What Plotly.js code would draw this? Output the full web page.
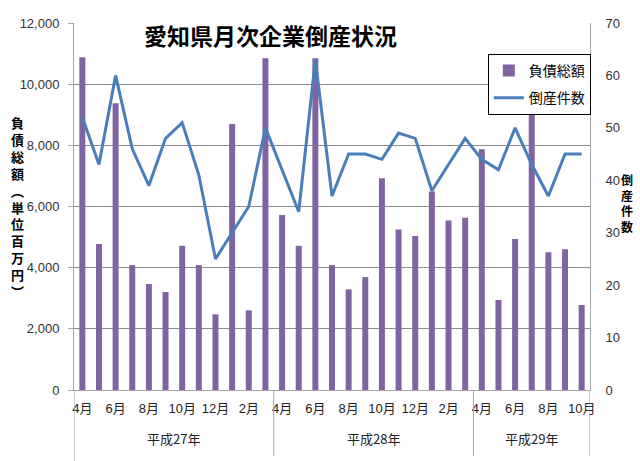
<!DOCTYPE html>
<html>
<head>
<meta charset="utf-8">
<script src="https://cdn.plot.ly/plotly-3.0.1.min.js"></script>
<style>
  html, body { margin: 0; padding: 0; background: #fff; }
  #chart { width: 640px; height: 461px; }
</style>
</head>
<body>
<div id="chart"></div>
<script>
// 平成27年4月 .. 平成29年10月
const months = ['4月', '5月', '6月', '7月', '8月', '9月', '10月', '11月', '12月', '1月', '2月', '3月',
                '4月', '5月', '6月', '7月', '8月', '9月', '10月', '11月', '12月', '1月', '2月', '3月',
                '4月', '5月', '6月', '7月', '8月', '9月', '10月'];
const years = ['平成27年', '平成28年', '平成29年'];
const yearCounts = [12, 12, 7];

// 負債総額 (百万円)
const debt = [10880, 4770, 9380, 4085, 3465, 3205, 4720, 4085, 2475, 8700, 2605, 10850,
              5720, 4720, 10850, 4085, 3290, 3690, 6920, 5250, 5035, 6490, 5540, 5635,
              7870, 2945, 4940, 9090, 4505, 4600, 2780];
// 倒産件数
const count = [52, 43, 60, 46, 39, 48, 51, 41, 25, 30, 35, 50,
               42, 34, 63, 37, 45, 45, 44, 49, 48, 38, 43, 48,
               44, 42, 50, 43, 37, 45, 45];

const idx = months.map((m, i) => i);
const tickIdx = idx.filter(i => i % 2 === 0);

const latin = 'Liberation Sans Narrow, Liberation Sans, Noto Sans CJK JP, sans-serif';
const cjk = 'Noto Sans CJK JP, sans-serif';

const traces = [
    {
        type: 'bar',
        name: '負債総額',
        legendgroup: 'a',
        x: idx,
        y: debt,
        width: 0.36,
        marker: {color: '#8064A2'},
        yaxis: 'y'
    },
    {
        type: 'scatter',
        mode: 'lines',
        name: '倒産件数',
        legendgroup: 'b',
        x: idx,
        y: count,
        line: {color: '#4A7EBB', width: 3},
        yaxis: 'y2'
    }
];

// year dividers and labels under the month ticks
let shapes = [], annotations = [];
let start = 0;
shapes.push({type: 'line', xref: 'x', yref: 'paper', x0: -0.5, x1: -0.5, y0: 0, y1: -0.2,
             line: {color: '#a6a6a6', width: 1}});
years.forEach((y, k) => {
    const end = start + yearCounts[k];
    shapes.push({type: 'line', xref: 'x', yref: 'paper', x0: end - 0.5, x1: end - 0.5, y0: 0, y1: -0.18,
                 line: {color: '#a6a6a6', width: 1}});
    annotations.push({text: y, xref: 'x', yref: 'paper', x: (start + end - 1) / 2, y: -0.131,
                      showarrow: false, yanchor: 'middle', font: {family: cjk, size: 13, color: '#222'}});
    start = end;
});

annotations.push({
    text: '<b>愛知県月次企業倒産状況</b>',
    xref: 'paper', yref: 'paper', x: 0.38, y: 0.967, xanchor: 'center', yanchor: 'middle',
    showarrow: false, bgcolor: '#fff',
    font: {family: cjk, size: 23, color: '#000'}
});
annotations.push({
    text: '<b>' + '負債総額︵単位百万円︶'.split('').join('<br>') + '</b>',
    xref: 'paper', yref: 'paper', x: -0.109, y: 0.5, xanchor: 'center', yanchor: 'middle',
    showarrow: false, font: {family: cjk, size: 13, color: '#000'}
});
annotations.push({
    text: '<b>' + '倒産件数'.split('').join('<br>') + '</b>',
    xref: 'paper', yref: 'paper', x: 1.072, y: 0.51, xanchor: 'center', yanchor: 'middle',
    showarrow: false, font: {family: cjk, size: 12, color: '#000'}
});

const layout = {
    width: 640,
    height: 461,
    margin: {l: 74, r: 50, t: 23, b: 71},
    paper_bgcolor: '#fff',
    plot_bgcolor: '#fff',
    showlegend: true,
    legend: {
        x: 0.802, y: 0.916, xanchor: 'left', yanchor: 'top',
        bgcolor: '#fff', bordercolor: '#000', borderwidth: 1,
        tracegroupgap: 6,
        font: {family: cjk, size: 14, color: '#000'}
    },
    xaxis: {
        range: [-0.5, 30.5],
        tickvals: tickIdx,
        ticktext: tickIdx.map(i => months[i]),
        ticks: '',
        ticklabelstandoff: 6,
        showgrid: false,
        zeroline: false,
        showline: true,
        linecolor: '#a6a6a6',
        tickfont: {family: latin, size: 13, color: '#222'}
    },
    yaxis: {
        range: [0, 12000],
        dtick: 2000,
        tickformat: ',d',
        ticks: 'outside',
        ticklen: 5,
        tickcolor: '#a6a6a6',
        ticklabelstandoff: 6,
        showgrid: true,
        gridcolor: '#8c8c8c',
        zeroline: false,
        showline: true,
        linecolor: '#a6a6a6',
        tickfont: {family: latin, size: 13, color: '#333'}
    },
    yaxis2: {
        overlaying: 'y',
        side: 'right',
        range: [0, 70],
        dtick: 10,
        ticks: '',
        ticklabelstandoff: 12,
        showgrid: false,
        zeroline: false,
        showline: true,
        linecolor: '#a6a6a6',
        tickfont: {family: latin, size: 13, color: '#333'}
    },
    shapes: shapes,
    annotations: annotations
};

Plotly.newPlot('chart', traces, layout, {displayModeBar: false, staticPlot: true});
</script>
</body>
</html>
